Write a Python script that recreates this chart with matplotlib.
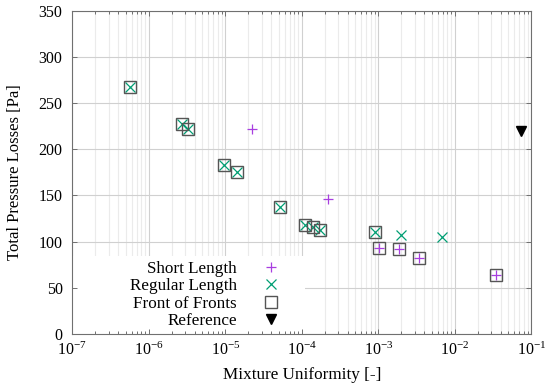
import matplotlib
matplotlib.use("Agg")
import matplotlib.pyplot as plt
from matplotlib.patches import Rectangle
from matplotlib.ticker import LogLocator, MultipleLocator, NullLocator, NullFormatter

# ---- data ----
short_x = [2.22e-5, 2.22e-4, 1.03e-3, 1.86e-3, 3.43e-3, 3.47e-2]
short_y = [222, 146, 93, 92, 82, 64]

regular_x = [5.7e-7, 2.73e-6, 3.21e-6, 9.5e-6, 1.44e-5, 5.14e-5,
             1.11e-4, 1.40e-4, 1.73e-4, 9.0e-4, 1.97e-3, 6.76e-3]
regular_y = [267, 227, 222, 183, 175, 137, 118, 116, 113, 110, 107, 105]

front_x = [5.7e-7, 2.73e-6, 3.21e-6, 9.5e-6, 1.44e-5, 5.14e-5,
           1.11e-4, 1.40e-4, 1.73e-4, 9.0e-4,
           1.03e-3, 1.86e-3, 3.43e-3, 3.47e-2]
front_y = [267, 227, 222, 183, 175, 137, 118, 116, 113, 110,
           93, 92, 82, 64]

ref_x = [0.073]
ref_y = [220]

labels = ["Short Length", "Regular Length", "Front of Fronts", "Reference"]
xlim = (1e-7, 1e-1)
ylim = (0, 350)

plt.rcParams["font.family"] = ["Liberation Serif", "DejaVu Serif"]
plt.rcParams["mathtext.fontset"] = "stix"
plt.rcParams["font.size"] = 12.3

fig = plt.figure(figsize=(5.5, 3.87), dpi=100)
pos = [0.1315, 0.1372, 0.8345, 0.8352]

# grid axes (behind)
gax = fig.add_axes(pos, zorder=0)
gax.set_xscale("log")
gax.set_xlim(*xlim)
gax.set_ylim(*ylim)
gax.xaxis.set_major_locator(LogLocator(base=10, numticks=20))
gax.xaxis.set_minor_locator(LogLocator(base=10, subs=range(2, 10), numticks=20))
gax.yaxis.set_major_locator(MultipleLocator(50))
gax.xaxis.set_major_formatter(NullFormatter())
gax.xaxis.set_minor_formatter(NullFormatter())
gax.yaxis.set_major_formatter(NullFormatter())
gax.grid(which="major", color="#d0d0d0", lw=0.8)
gax.grid(which="minor", axis="x", color="#ebebeb", lw=0.8)
gax.tick_params(which="both", length=0, labelbottom=False, labelleft=False)
gax.xaxis.label.set_visible(False)
gax.yaxis.label.set_visible(False)
gax.xaxis.offsetText.set_visible(False)
gax.yaxis.offsetText.set_visible(False)
gax.title.set_visible(False)
for s in gax.spines.values():
    s.set_visible(False)

# main axes
ax = fig.add_axes(pos, zorder=1)
ax.set_facecolor("none")
ax.set_xscale("log")
ax.set_xlim(*xlim)
ax.set_ylim(*ylim)
ax.xaxis.set_major_locator(LogLocator(base=10, numticks=20))
ax.xaxis.set_minor_locator(LogLocator(base=10, subs=range(2, 10), numticks=20))
ax.xaxis.set_minor_formatter(NullFormatter())
ax.yaxis.set_major_locator(MultipleLocator(50))
ax.yaxis.set_minor_locator(NullLocator())

# white legend backdrop hiding the grid
ax.add_patch(Rectangle((0, 0), 0.507, 0.241, transform=ax.transAxes,
                       facecolor="white", edgecolor="none", zorder=1))

ax.plot(short_x, short_y, ls="none", marker="+", ms=7.5, mew=0.9,
        color="#a83ee0", label=labels[0], zorder=3)
ax.plot(regular_x, regular_y, ls="none", marker="x", ms=7, mew=0.9,
        color="#009e73", label=labels[1], zorder=3)
ax.plot(front_x, front_y, ls="none", marker="s", ms=8.9, mew=1.0,
        mfc="none", mec="#555555", label=labels[2], zorder=3)
ax.plot(ref_x, ref_y, ls="none", marker="v", ms=6.5,
        color="black", label=labels[3], zorder=3)

for s in ax.spines.values():
    s.set_color("#707070")
    s.set_linewidth(0.8)
ax.tick_params(which="both", direction="in", top=True, right=True,
               color="#707070", width=0.7, labelsize=11.5)
ax.tick_params(which="major", length=3.6)
ax.tick_params(which="minor", length=2.2)
ax.tick_params(axis="x", pad=5.5)
ax.tick_params(axis="y", pad=7)

ax.set_xlabel("Mixture Uniformity [-]")
ax.xaxis.set_label_coords(0.5, -0.103)
ax.set_ylabel("Total Pressure Losses [Pa]", fontsize=12)
ax.yaxis.set_label_coords(-0.1076, 0.5)

leg = ax.legend(loc="upper right", bbox_to_anchor=(0.4847, 0.2472),
                borderaxespad=0, frameon=False, markerfirst=False,
                handlelength=2, handletextpad=1.0, labelspacing=0.085,
                borderpad=0.4)
leg.set_zorder(4)

fig.savefig("out.png", dpi=100)
